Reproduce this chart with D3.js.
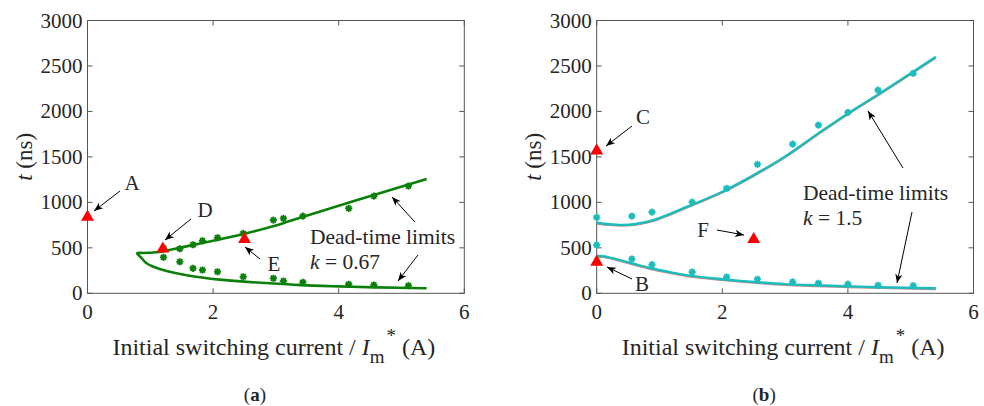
<!DOCTYPE html>
<html><head><meta charset="utf-8">
<script src="https://cdn.jsdelivr.net/npm/d3@7"></script>
<style>body{margin:0;background:#fff}svg{display:block}</style>
</head><body><svg id="c" width="984" height="406"></svg>
<script>
// ---------- data ----------
const xTicks = [0, 2, 4, 6];
const yTicks = [0, 500, 1000, 1500, 2000, 2500, 3000];
// panel (a) k = 0.67  — model curve (lower branch from far end to nose, then upper branch)
const aLowerCurve = [[5.4,55],[4.6,65],[4.0,76],[3.4,90],[2.9,110],[2.1,150],[1.58,198],[1.26,245],[1.05,292],[0.94,330],[0.85,396],[0.79,440]];
const aUpperCurve = [[0.79,440],[0.9,444],[1.05,448],[1.2,460],[1.5,505],[2.0,578],[2.5,655],[3.0,745],[3.22,794],[4.0,962],[4.6,1090],[5.4,1256]];
const aMeasX = [1.21, 1.47, 1.68, 1.83, 2.07, 2.48, 2.96, 3.12, 3.43, 4.16, 4.56, 5.11];
const aMeasUpper = [495, 490, 534, 578, 611, 659, 805, 824, 849, 934, 1069, 1179];
const aMeasLower = [396, 347, 275, 256, 237, 182, 165, 135, 121, 99, 91, 84];
const aPoints = [["A",0,850],["D",1.2,500],["E",2.5,604]];
// panel (b) k = 1.5
const bUpperCurve = [[0,776],[0.2,760],[0.4,752],[0.6,760],[0.9,805],[1.45,955],[2.0,1117],[2.5,1300],[3.0,1505],[3.5,1745],[4.0,1978],[4.5,2195],[5.4,2600]];
const bLowerCurve = [[0,410],[0.1,408],[0.3,378],[0.6,322],[0.85,278],[1.2,228],[1.5,192],[2.0,155],[2.5,125],[3.0,101],[3.5,88],[4.0,77],[4.5,67],[5.4,55]];
const bMeasX = [0, 0.56, 0.88, 1.52, 2.07, 2.56, 3.12, 3.53, 4.0, 4.48, 5.04];
const bMeasUpper = [835, 849, 893, 1003, 1154, 1418, 1641, 1850, 1989, 2234, 2418];
const bMeasLower = [531, 377, 315, 234, 179, 154, 125, 110, 100, 88, 84];
const bPoints = [["C",0,1578],["B",0,355],["F",2.5,604]];

// ---------- layout ----------
const FONT = "'Liberation Serif', 'Times New Roman', Tinos, 'DejaVu Serif', serif";
const svg = d3.select("#c").attr("font-family", FONT);
const TXT = "#262626";
const yTop = 20.5, yBot = 293.3;
const defs = svg.append("defs");
defs.append("marker").attr("id","ah").attr("viewBox","-10 -5 12 10").attr("refX",0).attr("refY",0)
  .attr("markerWidth",12).attr("markerHeight",10).attr("markerUnits","userSpaceOnUse").attr("orient","auto")
  .append("path").attr("d","M0,0 L-9,-3.6 L-6.5,0 L-9,3.6 Z").attr("fill","#000");

function txt(g, xx, yy, size) {
  return g.append("text").attr("x", xx).attr("y", yy).attr("font-family", FONT).attr("font-size", size).attr("fill", TXT);
}

function asterisk(g, cx, cy, color) {
  const r = 3.6;
  const a = g.append("g").attr("transform", `translate(${cx},${cy})`);
  a.append("circle").attr("r", 2.6).attr("fill", color);
  [0, 45, 90, 135].forEach(ang => {
    const t = ang * Math.PI / 180;
    a.append("line").attr("x1", -r*Math.cos(t)).attr("y1", -r*Math.sin(t))
      .attr("x2", r*Math.cos(t)).attr("y2", r*Math.sin(t))
      .attr("stroke", color).attr("stroke-width", 1.8);
  });
}

function panel(cfg) {
  const x = d3.scaleLinear().domain([0, 6]).range([cfg.x0, cfg.x1]);
  const y = d3.scaleLinear().domain([0, 3000]).range([yBot, yTop]);
  const g = svg.append("g");
  const tl = 5;
  g.append("rect").attr("x", cfg.x0).attr("y", yTop).attr("width", cfg.x1 - cfg.x0).attr("height", yBot - yTop)
    .attr("fill", "none").attr("stroke", "#555").attr("stroke-width", 1);
  xTicks.forEach(v => {
    g.append("line").attr("x1", x(v)).attr("x2", x(v)).attr("y1", yBot).attr("y2", yBot - tl).attr("stroke", "#555");
    g.append("line").attr("x1", x(v)).attr("x2", x(v)).attr("y1", yTop).attr("y2", yTop + tl).attr("stroke", "#555");
    txt(g, x(v), 319, 21).attr("text-anchor", "middle").text(v);
  });
  yTicks.forEach(v => {
    g.append("line").attr("x1", cfg.x0).attr("x2", cfg.x0 + tl).attr("y1", y(v)).attr("y2", y(v)).attr("stroke", "#555");
    g.append("line").attr("x1", cfg.x1).attr("x2", cfg.x1 - tl).attr("y1", y(v)).attr("y2", y(v)).attr("stroke", "#555");
    txt(g, cfg.x0 - 5, y(v) + 7, 21).attr("text-anchor", "end").text(v);
  });
  const yl = txt(g, 0, 0, 23).attr("transform", `translate(${cfg.x0 - 56},${(yTop + yBot) / 2}) rotate(-90)`)
    .attr("text-anchor", "middle");
  yl.append("tspan").attr("font-style", "italic").text("t");
  yl.append("tspan").text(" (ns)");
  const xl = txt(g, (cfg.x0 + cfg.x1) / 2 - 2, 355, 24).attr("text-anchor", "middle");
  xl.append("tspan").text("Initial switching current / ");
  xl.append("tspan").attr("font-style", "italic").text("I");
  xl.append("tspan").attr("dy", 8).attr("font-size", 19).text("m");
  xl.append("tspan").attr("dy", -21).attr("dx", 2).attr("font-size", 19).text("*");
  xl.append("tspan").attr("dy", 13).text(" (A)");
  const cap = txt(g, (cfg.x0 + cfg.x1) / 2 - 21, 401, 19).attr("text-anchor", "middle");
  cap.append("tspan").text("(");
  cap.append("tspan").attr("font-weight", "bold").text(cfg.cap);
  cap.append("tspan").text(")");
  return { x, y, g };
}

function drawPanel(cfg) {
  const { x, y, g } = panel(cfg);
  const line = d3.line().x(d => x(d[0])).y(d => y(d[1])).curve(d3.curveCatmullRom.alpha(0.5));
  cfg.curves.forEach(c => {
    if (cfg.shadow) {
      g.append("path").attr("d", line(c)).attr("fill", "none").attr("stroke", cfg.shadow)
        .attr("stroke-width", 1.6).attr("transform", "translate(0,1.1)");
    }
    g.append("path").attr("d", line(c)).attr("fill", "none").attr("stroke", cfg.color)
      .attr("stroke-width", cfg.lw).attr("stroke-linejoin", "round");
  });
  cfg.measX.forEach((v, i) => {
    asterisk(g, x(v), y(cfg.measU[i]), cfg.color);
    asterisk(g, x(v), y(cfg.measL[i]), cfg.color);
  });
  const tri = d3.symbol().type(d3.symbolTriangle).size(72);
  cfg.points.forEach(p => {
    g.append("path").attr("d", tri()).attr("transform", `translate(${x(p[1])},${y(p[2]) + 1})`).attr("fill", "#ff0000");
  });
  cfg.labels.forEach(l => {
    txt(g, l[1], l[2], 21).attr("text-anchor", "middle").text(l[0]);
  });
  cfg.arrows.forEach(a => {
    g.append("line").attr("x1", a[0]).attr("y1", a[1]).attr("x2", a[2]).attr("y2", a[3])
      .attr("stroke", "#000").attr("stroke-width", 1).attr("marker-end", "url(#ah)");
  });
  txt(g, cfg.dt[0], cfg.dt[1], 21.5).text("Dead-time limits");
  const t2 = txt(g, cfg.dt[0], cfg.dt[1] + 24.5, 21.5);
  t2.append("tspan").attr("font-style", "italic").text("k");
  t2.append("tspan").text(" = " + cfg.k);
}

drawPanel({
  x0: 87.5, x1: 464.3, cap: "a", color: "#0a800a", lw: 2.6,
  curves: [aLowerCurve.concat(aUpperCurve.slice(1))],
  measX: aMeasX, measU: aMeasUpper, measL: aMeasLower, points: aPoints,
  labels: [["A", 132, 190], ["D", 205, 217], ["E", 274, 271]],
  arrows: [[120, 191, 94, 211], [191, 219, 165, 240], [260, 259, 245, 247], [415, 222, 392, 197], [418, 255, 398, 281]],
  dt: [310, 244], k: "0.67"
});
drawPanel({
  x0: 596.7, x1: 973.5, cap: "b", color: "#1cbcbc", lw: 2.4, shadow: "#c98c84",
  curves: [bUpperCurve, bLowerCurve],
  measX: bMeasX, measU: bMeasUpper, measL: bMeasLower, points: bPoints,
  labels: [["C", 643, 124], ["B", 642, 291], ["F", 703, 237]],
  arrows: [[632, 126, 606, 146], [632, 279, 607, 267], [717, 230, 744, 235], [903, 168, 868, 111], [912, 212, 897, 283]],
  dt: [803, 200], k: "1.5"
});
</script></body></html>
